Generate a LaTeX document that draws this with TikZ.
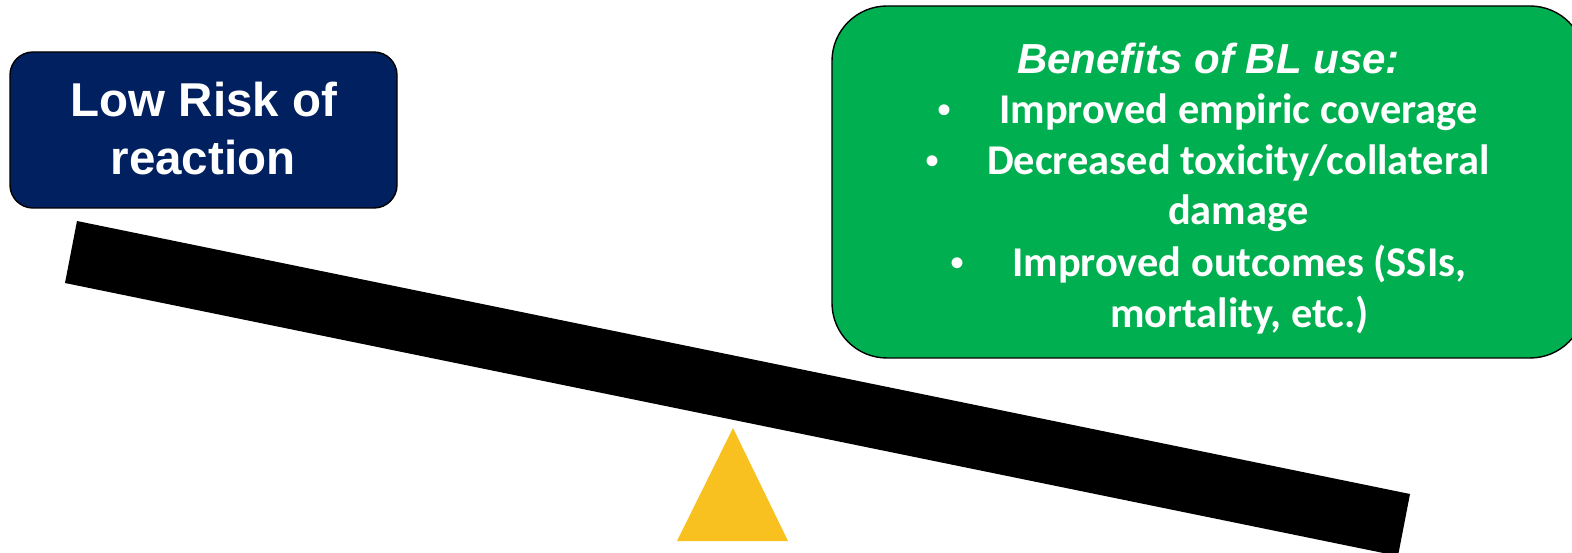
\documentclass[tikz,border=0pt]{standalone}
\usepackage{fontspec}
\setmainfont{Liberation Sans}
\newfontfamily\calibri{Carlito}
\definecolor{navybox}{HTML}{002060}
\definecolor{greenbox}{HTML}{00B050}
\definecolor{fulcrum}{HTML}{F8C11F}
\begin{document}
\begin{tikzpicture}[x=1pt,y=-1pt,
  box/.style={draw=black,line width=1.4pt,inner sep=0pt},
  lowtxt/.style={text=white,font=\fontsize{47.5}{58}\selectfont\bfseries,inner sep=0pt,anchor=base},
  bentitle/.style={text=white,font=\fontsize{42}{50}\selectfont\bfseries\itshape,inner sep=0pt,anchor=base west},
  bentxt/.style={text=white,font=\calibri\fontsize{42.4}{51}\selectfont\bfseries,inner sep=0pt,anchor=base west},
  bul/.style={text=white,font=\fontsize{40}{51}\selectfont,inner sep=0pt,anchor=base}]
\clip (0,0) rectangle (1572,553);
% beam
\fill[black] (77,221) -- (1410,494) -- (1398,556) -- (65,283) -- cycle;
% fulcrum
\fill[fulcrum] (733,428) -- (788,541) -- (677,541) -- cycle;
% left box
\draw[box,fill=navybox,rounded corners=23pt] (10,52) rectangle (397,208);
\node[lowtxt] (low1) at (204,117) {Low Risk of};
\node[lowtxt] (low2) at (203,175) {reaction};
% green box
\draw[box,fill=greenbox,rounded corners=55pt] (832,6) rectangle (1585,358);
\node[bentitle] (title) at (1017,74) {Benefits of BL use:};
\node[bul] (b1) at (944,124) {•};
\node[bentxt] (t1) at (999,124) {Improved empiric coverage};
\node[bul] (b2) at (932,175) {•};
\node[bentxt] (t2) at (987,175) {Decreased toxicity/collateral};
\node[bentxt] (t3) at (1168,225) {damage};
\node[bul] (b4) at (957,277) {•};
\node[bentxt] (t4) at (1012,277) {Improved outcomes (SSIs,};
\node[bentxt] (t5) at (1110,327) {mortality, etc.)};
\end{tikzpicture}
\end{document}
